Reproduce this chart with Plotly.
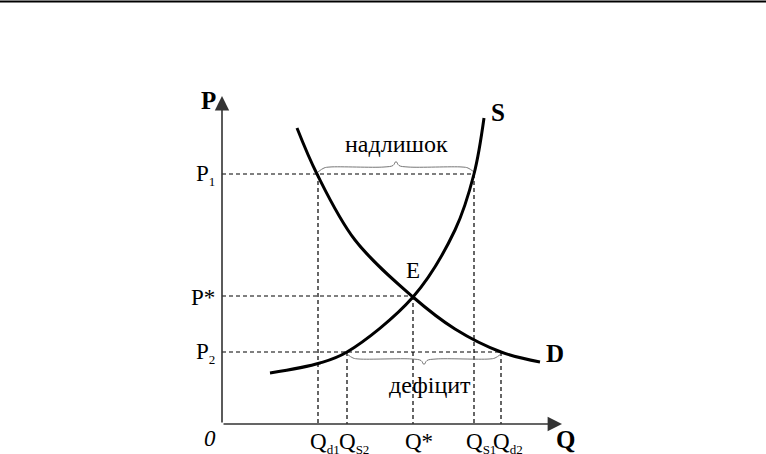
import plotly.graph_objects as go

# ---- data (Q and P in chart units, origin at the axes corner) ----
demand_q = [7.5, 9.5, 13.3, 19.1, 23.3, 27.9, 31.8]
demand_p = [29.6, 25.0, 18.4, 12.7, 9.5, 7.2, 6.2]
supply_q = [4.8, 9.8, 12.5, 19.1, 23.3, 25.2, 26.2]
supply_p = [5.1, 6.1, 7.2, 12.7, 19.4, 25.0, 30.6]

SUB = '<sub><span style="font-size:13px;color:black">{}</span></sub>'
q_names = ["Q" + SUB.format("d1"), "Q" + SUB.format("S2"), "Q*",
           "Q" + SUB.format("S1"), "Q" + SUB.format("d2")]
q_vals = [9.6, 12.5, 19.1, 25.2, 27.9]
p_names = ["P" + SUB.format("1"), "P*", "P" + SUB.format("2")]
p_vals = [25.0, 12.8, 7.2]

Q_D1, Q_S2, Q_STAR, Q_S1, Q_D2 = q_vals
P1, P_STAR, P2 = p_vals

SERIF = "Times New Roman, Liberation Serif, DejaVu Serif, serif"

fig = go.Figure()

# dashed guide lines
dash = dict(color="black", width=1.2, dash="4px,3px")
guides = [
    ([0, Q_S1], [P1, P1]),
    ([0, Q_STAR], [P_STAR, P_STAR]),
    ([0, Q_D2], [P2, P2]),
    ([Q_D1, Q_D1], [P1, 0]),
    ([Q_S1, Q_S1], [P1, 0]),
    ([Q_STAR, Q_STAR], [P_STAR, 0]),
    ([Q_S2, Q_S2], [P2, 0]),
    ([Q_D2, Q_D2], [P2, 0]),
]
for gx, gy in guides:
    fig.add_trace(go.Scatter(x=gx, y=gy, mode="lines", line=dash,
                             hoverinfo="skip", showlegend=False))


def brace(x0, x1, base, direction, h=0.5):
    xm = (x0 + x1) / 2
    w = 1.2
    xs = [x0, x0 + w * 0.5, x0 + w, xm - w, xm - 0.3, xm, xm + 0.3, xm + w, x1 - w, x1 - w * 0.5, x1]
    ys = [base, base + direction * h * 0.8, base + direction * h, base + direction * h,
          base + direction * h * 1.3, base + direction * h * 2.1,
          base + direction * h * 1.3, base + direction * h, base + direction * h,
          base + direction * h * 0.8, base]
    return xs, ys


bx, by = brace(Q_D1, Q_S1, P1 + 0.2, +1)
fig.add_trace(go.Scatter(x=bx, y=by, mode="lines", line=dict(color="#777", width=1, shape="spline"),
                         hoverinfo="skip", showlegend=False))
bx, by = brace(Q_S2, Q_D2, P2 - 0.2, -1)
fig.add_trace(go.Scatter(x=bx, y=by, mode="lines", line=dict(color="#777", width=1, shape="spline"),
                         hoverinfo="skip", showlegend=False))

# curves
fig.add_trace(go.Scatter(x=demand_q, y=demand_p, mode="lines",
                         line=dict(color="black", width=3, shape="spline", smoothing=1.0),
                         hoverinfo="skip", showlegend=False))
fig.add_trace(go.Scatter(x=supply_q, y=supply_p, mode="lines",
                         line=dict(color="black", width=3, shape="spline", smoothing=1.0),
                         hoverinfo="skip", showlegend=False))

annotations = []
# axes arrows
annotations.append(dict(x=0, y=32.8, ax=0, ay=0, xref="x", yref="y", axref="x", ayref="y",
                        text="", showarrow=True, arrowhead=2, arrowsize=1.8, arrowwidth=1.6,
                        arrowcolor="#333"))
annotations.append(dict(x=34.0, y=0, ax=0, ay=0, xref="x", yref="y", axref="x", ayref="y",
                        text="", showarrow=True, arrowhead=2, arrowsize=1.8, arrowwidth=1.6,
                        arrowcolor="#333"))

font = dict(family=SERIF, size=23, color="black")
bold = dict(family=SERIF, size=25, color="black")

annotations.append(dict(x=-1.4, y=32.4, text="<b>P</b>", showarrow=False, font=bold))
annotations.append(dict(x=34.3, y=-1.5, text="<b>Q</b>", showarrow=False, font=bold))
annotations.append(dict(x=27.6, y=31.2, text="<b>S</b>", showarrow=False, font=bold))
annotations.append(dict(x=33.3, y=7.1, text="<b>D</b>", showarrow=False, font=bold))
annotations.append(dict(x=19.1, y=15.4, text="E", showarrow=False, font=font))
annotations.append(dict(x=-1.2, y=-1.4, text="<i>0</i>", showarrow=False, font=font))

for name, v in zip(p_names, p_vals):
    annotations.append(dict(x=-0.5, y=v, text=name, showarrow=False, font=font,
                            xanchor="right", yanchor="middle", yshift=-1))
for name, v in zip(q_names, q_vals):
    annotations.append(dict(x=v, y=-0.6, text=name, showarrow=False, font=font,
                            xanchor="left", xshift=-10, yanchor="top", yshift=3))

annotations.append(dict(x=(Q_D1 + Q_S1) / 2, y=28.0, text="надлишок", showarrow=False,
                        font=dict(family=SERIF, size=24, color="black")))
annotations.append(dict(x=(Q_S2 + Q_D2) / 2 + 0.6, y=3.9, text="дефіцит", showarrow=False,
                        font=dict(family=SERIF, size=24, color="black")))

fig.update_layout(
    width=766, height=454,
    margin=dict(l=0, r=0, t=0, b=0),
    paper_bgcolor="white", plot_bgcolor="white",
    xaxis=dict(range=[-22.2, 54.4], visible=False, fixedrange=True),
    yaxis=dict(range=[-3.0, 42.4], visible=False, fixedrange=True),
    annotations=annotations,
    shapes=[dict(type="line", xref="paper", yref="paper", x0=0, x1=1,
                 y0=1 - 1.5 / 454, y1=1 - 1.5 / 454, line=dict(color="black", width=2))],
    showlegend=False,
)

fig.write_html("out.html", config={"displayModeBar": False},
               post_script="document.body.style.margin='0';document.body.style.overflow='hidden';")
